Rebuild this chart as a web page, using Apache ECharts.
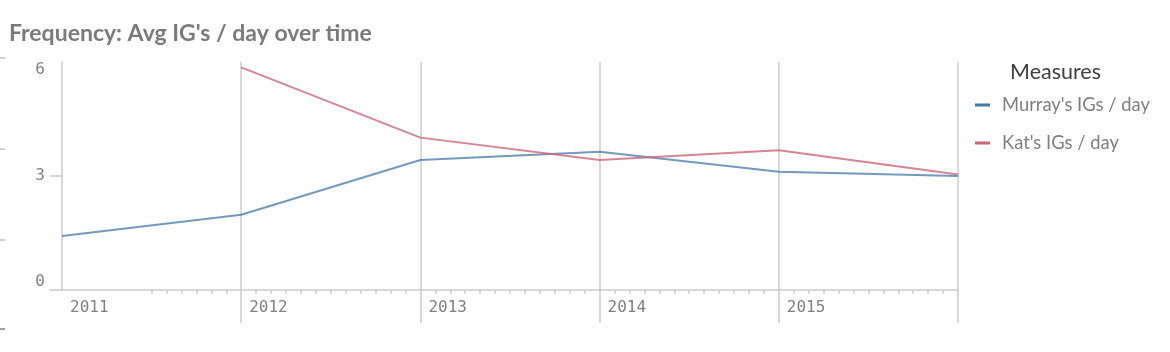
<!DOCTYPE html>
<html>
<head>
<meta charset="utf-8">
<script src="https://cdn.jsdelivr.net/npm/echarts@6/dist/echarts.min.js"></script>
<style>html,body{margin:0;padding:0;background:#fff}#c{width:1170px;height:352px}</style>
</head>
<body>
<div id="c"></div>
<script>
const years = [2011, 2012, 2013, 2014, 2015, 2016];
const yearLabels = ['2011', '2012', '2013', '2014', '2015'];
const murray = [1.42, 1.98, 3.42, 3.64, 3.11, 3.0];
const kat = [null, 5.86, 4.01, 3.42, 3.68, 3.04];
const yTicks = [0, 3, 6];
const seriesNames = ["Murray's IGs / day", "Kat's IGs / day"];

const monthTicks = [];
for (let y = 2011; y < 2016; y++) {
  for (let m = 1; m < 12; m++) {
    if (y === 2011 && m < 6) continue;
    monthTicks.push(y + m / 12);
  }
}

const chart = echarts.init(document.getElementById('c'), null, {renderer: 'canvas'});
const grid = {left: 62, right: 212, top: 62, bottom: 62};
const mono = 'DejaVu Sans Mono';
chart.setOption({
  animation: false,
  title: {
    text: "Frequency: Avg IG's / day over time",
    left: 4, top: 17,
    textStyle: {fontFamily: 'Lato', fontWeight: 'bold', fontSize: 23, color: '#7b7b7b'}
  },
  grid: grid,
  legend: {
    orient: 'vertical', left: 970, top: 90,
    itemWidth: 15, itemHeight: 3, itemGap: 18,
    icon: 'rect',
    textStyle: {fontFamily: 'Lato', fontSize: 18.4, color: '#7f7f7f', lineHeight: 20, padding: [0, 0, 0, 7]},
    data: [
      {name: seriesNames[0], itemStyle: {color: '#4477aa', opacity: 1}},
      {name: seriesNames[1], itemStyle: {color: '#cc6677', opacity: 1}}
    ]
  },
  graphic: [
    {type: 'text', left: 1010, top: 61, style: {text: 'Measures', fontFamily: 'Lato', fontSize: 21.5, fill: '#404040'}},
    {type: 'rect', shape: {x: 0, y: 57, width: 5, height: 2}, style: {fill: '#cfcfcf'}},
    {type: 'rect', shape: {x: 0, y: 148, width: 5, height: 2}, style: {fill: '#cfcfcf'}},
    {type: 'rect', shape: {x: 0, y: 239, width: 5, height: 2}, style: {fill: '#cfcfcf'}},
    {type: 'rect', shape: {x: 0, y: 328, width: 5, height: 2}, style: {fill: '#a0a0a0'}}
  ],
  xAxis: [{
    type: 'value', min: 2011, max: 2016, interval: 1,
    axisLine: {show: true, lineStyle: {color: '#cccccc', width: 1.5}},
    axisTick: {show: true, customValues: [2012, 2013, 2014, 2015, 2016], length: 33, lineStyle: {color: '#cccccc', width: 1.5}},
    axisLabel: {
      customValues: years.slice(0, 5),
      formatter: (v) => yearLabels[years.indexOf(Math.round(v))] || '',
      align: 'left', margin: 10, padding: [0, 0, 0, 8],
      fontFamily: mono, fontSize: 16, color: '#808080'
    },
    splitLine: {show: true, lineStyle: {color: '#cccccc', width: 1.5}}
  }, {
    type: 'value', min: 2011, max: 2016, position: 'bottom',
    axisLine: {show: false},
    axisTick: {show: true, customValues: monthTicks, length: 4, lineStyle: {color: '#cccccc', width: 1.5}},
    axisLabel: {show: false},
    splitLine: {show: false}
  }],
  yAxis: {
    type: 'value', min: 0, max: 6, interval: 3,
    axisLine: {show: true, lineStyle: {color: '#cccccc', width: 1.5}},
    axisTick: {show: true, customValues: [0, 3], length: 12, lineStyle: {color: '#cccccc', width: 1.5}},
    axisLabel: {
      customValues: yTicks,
      margin: 17, fontFamily: mono, fontSize: 16, color: '#808080',
      verticalAlignMinLabel: 'bottom', verticalAlignMaxLabel: 'top'
    },
    splitLine: {show: false}
  },
  series: [{
    name: seriesNames[0], type: 'line', showSymbol: false, symbol: 'none',
    data: years.map((y, i) => [y, murray[i]]),
    itemStyle: {color: '#4477aa'},
    lineStyle: {color: '#4477aa', width: 2, opacity: 0.75}
  }, {
    name: seriesNames[1], type: 'line', showSymbol: false, symbol: 'none',
    data: years.map((y, i) => [y, kat[i]]),
    itemStyle: {color: '#cc6677'},
    lineStyle: {color: '#cc6677', width: 2, opacity: 0.8}
  }]
});
</script>
</body>
</html>
